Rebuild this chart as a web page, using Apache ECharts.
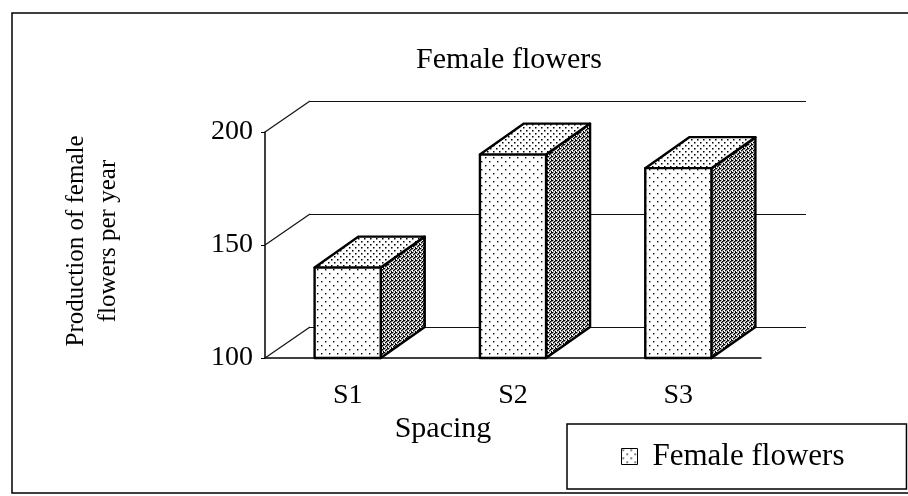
<!DOCTYPE html>
<html>
<head>
<meta charset="utf-8">
<script src="https://cdn.jsdelivr.net/npm/echarts@6/dist/echarts.min.js"></script>
<style>
  html, body { margin: 0; padding: 0; background: #fff; }
  #chart { width: 908px; height: 496px; }
</style>
</head>
<body>
<div id="chart"></div>
<script>
// chart data
const categories = ['S1', 'S2', 'S3']
const femaleFlowers = [140, 190, 184]
const yTicks = [100, 150, 200]
const seriesName = 'Female flowers'

const FONT = 'Liberation Serif'
// depth of the pseudo 3D walls / boxes (px)
const WALL_DX = 45, WALL_DY = -31
const BAR_DX = 44, BAR_DY = -31

// dotted fill like the printed hatch
function makeDots(size, dots, r) {
  const c = document.createElement('canvas')
  c.width = size
  c.height = size
  const ctx = c.getContext('2d')
  ctx.fillStyle = '#fff'
  ctx.fillRect(0, 0, size, size)
  ctx.fillStyle = '#000'
  dots.forEach(d => ctx.fillRect(d[0], d[1], r, r))
  return { image: c, repeat: 'repeat' }
}
const frontFill = makeDots(8, [[1, 1], [5, 5]], 1.4)
const topFill = makeDots(6, [[1, 1], [4, 4]], 1.5)
const sideFill = makeDots(4, [[0, 0], [2, 1], [1, 2], [3, 3], [3, 0]], 1.4)

// 3D box for each bar
function renderBox(params, api) {
  const idx = api.value(0)
  const v = api.value(1)
  const base = api.coord([idx, yTicks[0]])
  const top = api.coord([idx, v])
  const w = api.size([1, 0])[0] * 0.4
  const x0 = base[0] - w / 2, x1 = base[0] + w / 2
  const yb = base[1], yt = top[1]
  const st = { stroke: '#000', lineWidth: 2.4, lineJoin: 'round' }
  return {
    type: 'group',
    children: [
      { type: 'polygon', shape: { points: [[x1, yb], [x1 + BAR_DX, yb + BAR_DY], [x1 + BAR_DX, yt + BAR_DY], [x1, yt]] },
        style: Object.assign({ fill: sideFill }, st) },
      { type: 'polygon', shape: { points: [[x0, yt], [x1, yt], [x1 + BAR_DX, yt + BAR_DY], [x0 + BAR_DX, yt + BAR_DY]] },
        style: Object.assign({ fill: topFill }, st) },
      { type: 'rect', shape: { x: x0, y: yt, width: w, height: yb - yt },
        style: Object.assign({ fill: frontFill }, st) }
    ]
  }
}

// diagonal lines on the left side wall
function renderSide(params, api) {
  const p = api.coord([0, api.value(0)])
  const x = params.coordSys.x
  return {
    type: 'line',
    shape: { x1: x, y1: p[1], x2: x + WALL_DX, y2: p[1] + WALL_DY },
    style: { stroke: '#111', lineWidth: 1.2 }
  }
}

const chart = echarts.init(document.getElementById('chart'))

const option = {
  animation: false,
  backgroundColor: '#fff',
  title: {
    text: 'Female flowers',
    left: 509,
    top: 45,
    padding: 0,
    textAlign: 'center',
    textStyle: { fontFamily: FONT, fontSize: 30, fontWeight: 'normal', color: '#000' }
  },
  legend: {
    data: [{ name: seriesName, icon: 'rect', itemStyle: { color: frontFill, borderColor: '#000', borderWidth: 1 } }],
    left: 567,
    top: 424,
    padding: [17, 62, 17, 54],
    borderColor: '#000',
    borderWidth: 1.5,
    itemWidth: 16,
    itemHeight: 16,
    selectedMode: false,
    textStyle: { fontFamily: FONT, fontSize: 31, color: '#000', padding: [0, 0, 0, 10] }
  },
  grid: [
    // front plane
    { left: 265, top: 132, width: 496, height: 226 },
    // back wall
    { left: 265 + WALL_DX, top: 132 + WALL_DY, width: 496, height: 226 }
  ],
  xAxis: [
    {
      type: 'category',
      gridIndex: 0,
      data: categories,
      axisLine: { lineStyle: { color: '#000', width: 1.5 } },
      axisTick: { length: 6, lineStyle: { color: '#000', width: 1.5 } },
      axisLabel: { fontFamily: FONT, fontSize: 28, color: '#000', margin: 24 }
    },
    {
      type: 'category',
      gridIndex: 1,
      data: categories,
      show: false
    }
  ],
  yAxis: [
    {
      type: 'value',
      gridIndex: 0,
      min: 100,
      max: 200,
      interval: 50,
      name: 'Production of female\nflowers per year',
      nameLocation: 'middle',
      nameRotate: 90,
      nameGap: 141,
      nameTextStyle: { fontFamily: FONT, fontSize: 25, lineHeight: 32, color: '#000', padding: [0, 0, 0, 8] },
      axisLine: { show: true, lineStyle: { color: '#000', width: 1.5 } },
      axisTick: { show: true, length: 4, lineStyle: { color: '#000' } },
      splitLine: { show: false },
      axisLabel: { fontFamily: FONT, fontSize: 28, color: '#000', margin: 12 }
    },
    {
      type: 'value',
      gridIndex: 1,
      min: 100,
      max: 200,
      interval: 50,
      axisLine: { show: false },
      axisTick: { show: false },
      axisLabel: { show: false },
      splitLine: { show: true, lineStyle: { color: '#111', width: 1.2 } }
    }
  ],
  graphic: [
    {
      type: 'rect',
      shape: { x: 12, y: 13, width: 920, height: 480 },
      style: { fill: 'none', stroke: '#000', lineWidth: 1.5 },
      silent: true
    },
    {
      type: 'text',
      x: 443,
      y: 429,
      style: { text: 'Spacing', fontFamily: FONT, fontSize: 30, fill: '#000', align: 'center', verticalAlign: 'middle' }
    }
  ],
  series: [
    {
      type: 'custom',
      name: 'side',
      xAxisIndex: 0,
      yAxisIndex: 0,
      z: 1,
      silent: true,
      renderItem: renderSide,
      data: yTicks.map(v => [v]),
      encode: { y: 0 }
    },
    {
      type: 'custom',
      name: seriesName,
      xAxisIndex: 0,
      yAxisIndex: 0,
      z: 3,
      itemStyle: { color: '#fff' },
      renderItem: renderBox,
      data: categories.map((c, i) => [i, femaleFlowers[i]]),
      encode: { x: 0, y: 1 }
    }
  ]
}

chart.setOption(option)
</script>
</body>
</html>
